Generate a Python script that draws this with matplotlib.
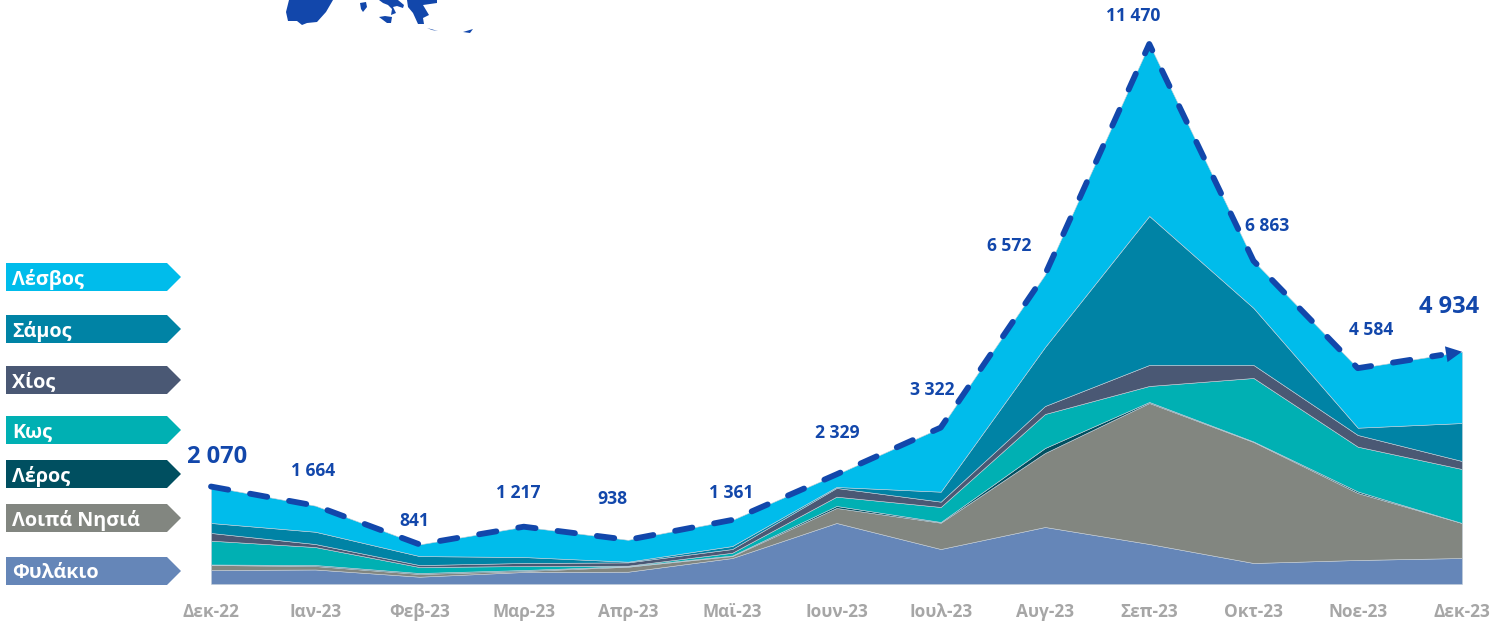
import matplotlib

matplotlib.use("Agg")
import matplotlib.pyplot as plt
import numpy as np
from matplotlib.patches import Polygon

plt.rcParams["font.family"] = ["Open Sans", "DejaVu Sans"]
plt.rcParams["font.weight"] = "bold"

MONTHS = ["Δεκ-22", "Ιαν-23", "Φεβ-23", "Μαρ-23", "Απρ-23", "Μαϊ-23", "Ιουν-23",
          "Ιουλ-23", "Αυγ-23", "Σεπ-23", "Οκτ-23", "Νοε-23", "Δεκ-23"]

# stacked bottom to top
FYLAKIO = [297, 308, 155, 255, 261, 552, 1296, 743, 1211, 850, 446, 510, 552]
LOIPA = [106, 74, 57, 21, 106, 42, 319, 559, 1572, 2995, 2570, 1423, 743]
LEROS = [11, 21, 21, 21, 11, 11, 42, 15, 106, 21, 11, 32, 0]
KOS = [506, 382, 127, 85, 11, 59, 198, 319, 722, 340, 1349, 952, 1147]
CHIOS = [164, 64, 42, 64, 70, 79, 185, 113, 170, 446, 276, 248, 170]
SAMOS = [212, 261, 191, 127, 15, 64, 21, 212, 1253, 3165, 1211, 155, 807]
LESVOS = [774, 554, 248, 644, 464, 554, 268, 1361, 1538, 3653, 1000, 1264, 1515]
TOTAL = [2070, 1664, 841, 1217, 938, 1361, 2329, 3322, 6572, 11470, 6863, 4584, 4934]

SERIES_COLORS = ["#6586B8", "#828680", "#004F60", "#00B0B3", "#4A5874", "#0083A5", "#00BCEB"]
LINE_COLOR = "#1247AB"
TICK_COLOR = "#A6A6A6"

# pixel offset of each total label from its point
LABEL_OFFSETS = [(6, 30), (-2, 35), (-5, 23), (-5, 34), (-16, 41), (-1, 27), (1, 41),
                 (-8, 38), (-36, 29), (-16, 28), (14, 35), (13, 38), (-13, 45)]

LEGEND_NAMES = ["Λέσβος", "Σάμος", "Χίος", "Κως", "Λέρος", "Λοιπά Νησιά", "Φυλάκιο"]
LEGEND_COLORS = ["#00BCEB", "#0083A5", "#4A5874", "#00B0B3", "#004F60", "#828680", "#6586B8"]
LEGEND_TOPS = [263, 315, 366, 416, 460, 504, 557]

# fragment of the map picture, cut by the top edge
MAP_PIECES = [
    [(289, 0), (286, 12), (288, 21), (297, 21), (302, 25), (307, 23), (317, 22), (326, 12), (333, 0)],
    [(360, 3), (366, 2), (367, 7), (363, 12), (361, 9)],
    [(379, 0), (398, 0), (404, 5), (403, 8), (397, 6), (393, 7), (396, 13), (391, 15), (392, 9), (388, 5), (383, 3)],
    [(379, 17), (385, 16), (392, 17), (391, 23), (387, 23)],
    [(407, 0), (437, 0), (437, 3), (430, 4), (423, 5), (429, 15), (423, 18), (424, 24), (418, 24), (413, 13), (408, 7)],
    [(427, 28), (438, 31), (432, 30)],
    [(463, 32), (473, 29), (470, 33)],
]


def main() -> None:
    figure = plt.figure(figsize=(15.03, 6.25), dpi=100)
    overlay = figure.add_axes([0, 0, 1, 1])
    overlay.set_xlim(0, 1503)
    overlay.set_ylim(625, 0)
    overlay.axis("off")

    axis = figure.add_axes([211 / 1503, 41 / 625, 1251 / 1503, 584 / 625])
    axis.patch.set_alpha(0)
    x = np.arange(len(MONTHS))
    axis.stackplot(x, FYLAKIO, LOIPA, LEROS, KOS, CHIOS, SAMOS, LESVOS,
                   colors=SERIES_COLORS, edgecolor="#C4CED8", linewidth=0.4)
    axis.set_xlim(0, 12)
    axis.set_ylim(0, 12404)

    # last dash stops short of the arrow head
    axis.plot(x[:-1].tolist() + [11.8], TOTAL[:-1] + [TOTAL[-1] - 70], color=LINE_COLOR, lw=4.2,
              dashes=(3.0, 3.8), dash_capstyle="round", dash_joinstyle="round", clip_on=False)
    axis.annotate("", xy=(12, TOTAL[-1]), xytext=(11.84, TOTAL[-1] - 57),
                  arrowprops=dict(arrowstyle="-|>,head_length=1.0,head_width=0.5", color=LINE_COLOR,
                                  lw=0, shrinkA=0, shrinkB=0, mutation_scale=11.5), annotation_clip=False)

    for i, (total, offset) in enumerate(zip(TOTAL, LABEL_OFFSETS)):
        label = f"{total:,}".replace(",", " ")
        size = 17 if i in (0, len(TOTAL) - 1) else 12.6
        axis.annotate(label, xy=(i, total), xytext=offset, textcoords="offset pixels", color=LINE_COLOR,
                      fontsize=size, ha="center", va="center", annotation_clip=False)

    axis.set_xticks(x, MONTHS, color=TICK_COLOR, fontsize=12.4)
    axis.tick_params(axis="x", length=0, pad=13.5)
    axis.set_yticks([])
    for spine in axis.spines.values():
        spine.set_visible(False)

    for name, color, top in zip(LEGEND_NAMES, LEGEND_COLORS, LEGEND_TOPS):
        overlay.add_patch(Polygon([(6, top), (167, top), (181, top + 14), (167, top + 28), (6, top + 28)],
                                  closed=True, facecolor=color, edgecolor="none"))
        overlay.text(12, top + 16.5, name, color="white", fontsize=14.2, ha="left", va="center")

    for piece in MAP_PIECES:
        overlay.add_patch(Polygon(piece, closed=True, facecolor=LINE_COLOR, edgecolor="none"))

    figure.savefig("out.png", dpi=100)
    plt.close(figure)


if __name__ == "__main__":
    main()
